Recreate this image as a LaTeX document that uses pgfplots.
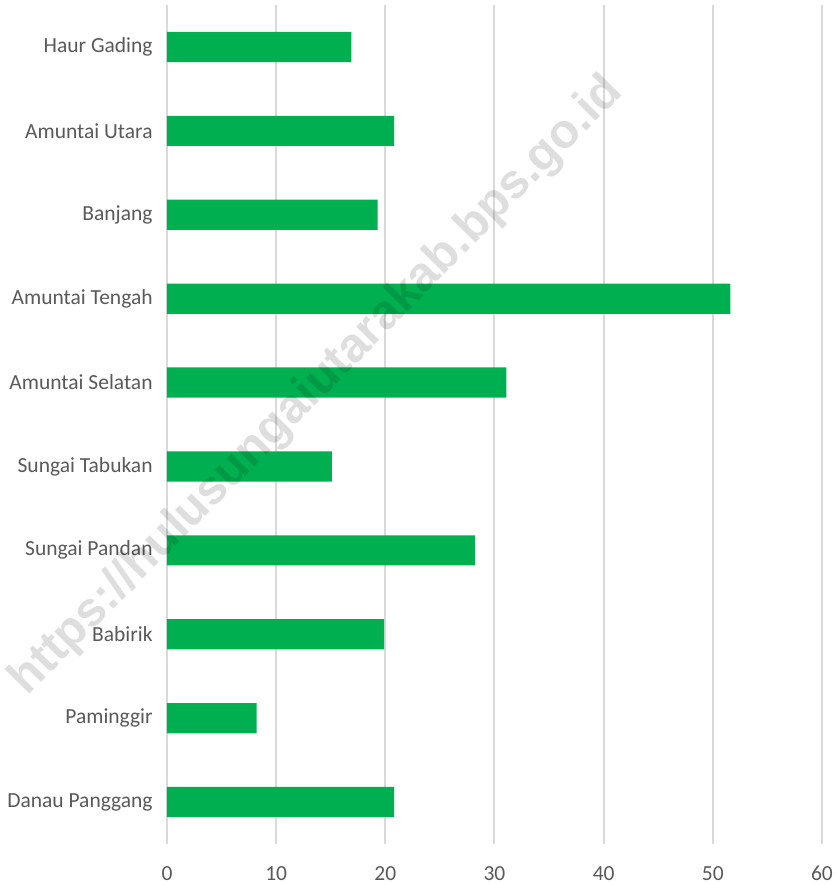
\documentclass[border=0pt]{standalone}
\usepackage{fontspec}
\setmainfont{Carlito}
\newfontfamily\wmfont{Liberation Sans}
\usepackage{graphicx}
\usepackage{pgfplots}
\pgfplotsset{compat=1.18}

\definecolor{bargreen}{HTML}{00B050}
\definecolor{labelgray}{HTML}{595959}
\definecolor{gridgray}{HTML}{D9D9D9}

\begin{document}
\begin{tikzpicture}
    % page frame, 1px = 0.5pt
    \path (-83.5pt,-20.5pt) rectangle (334.5pt,422pt);
    \begin{axis}[
        at={(0,0)}, anchor=south west,
        scale only axis,
        width=327.5pt,
        height=419.5pt,
        xbar,
        bar width=0.36,
        bar shift=0pt,
        xmin=0, xmax=60,
        ymin=-0.5, ymax=9.5,
        xtick={0,10,...,60},
        ytick={0,...,9},
        yticklabels={Danau Panggang, Paminggir, Babirik, Sungai Pandan,
            Sungai Tabukan, Amuntai Selatan, Amuntai Tengah, Banjang,
            Amuntai Utara, Haur Gading},
        axis line style={draw=none},
        major tick length=0pt,
        xmajorgrids=true,
        grid style={gridgray, line width=1pt},
        tick label style={font=\fontsize{10.75pt}{13pt}\selectfont, text=labelgray, inner sep=0pt},
        x tick label style={yshift=-11pt},
        y tick label style={xshift=-7pt},
        /pgf/number format/assume math mode=true,
        clip=false,
    ]
        \addplot[draw=none, fill=bargreen] coordinates {
            (20.8,0) (8.2,1) (19.9,2) (28.2,3) (15.1,4)
            (31.1,5) (51.6,6) (19.3,7) (20.8,8) (16.9,9)
        };
    \end{axis}
    % watermark
    \node[overlay, rotate=45.3, text=black, opacity=0.13, inner sep=0pt] at (75pt,229pt)
        {\resizebox{424pt}{!}{\wmfont\bfseries https://hulusungaiutarakab.bps.go.id}};
\end{tikzpicture}
\end{document}
